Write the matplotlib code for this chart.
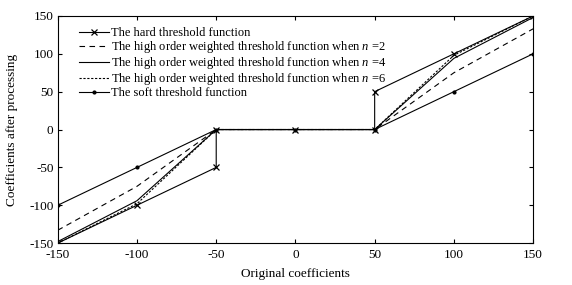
#!/usr/bin/env python3

import matplotlib
matplotlib.use('Agg')
import matplotlib.pyplot as plt

# values
x_hard = [-150, -100, -50, -50, 0, 50, 50, 100, 150]
y_hard = [-150, -100, -50, 0, 0, 0, 50, 100, 150]

x_pts = [-150, -100, -50, 0, 50, 100, 150]
y_n2 = [-133, -75, 0, 0, 0, 75, 133]
y_n4 = [-148, -94, 0, 0, 0, 94, 148]
y_n6 = [-150, -98, 0, 0, 0, 98, 150]
y_soft = [-100, -50, 0, 0, 0, 50, 100]

xticks = [-150, -100, -50, 0, 50, 100, 150]
yticks = [-150, -100, -50, 0, 50, 100, 150]


def main():
    plt.rcParams['font.family'] = ['Liberation Serif', 'DejaVu Serif']
    plt.rcParams['axes.unicode_minus'] = False
    plt.rcParams['mathtext.fontset'] = 'custom'
    plt.rcParams['mathtext.rm'] = 'Liberation Serif'
    plt.rcParams['mathtext.it'] = 'Liberation Serif:italic'

    fig = plt.figure(figsize=(5.72, 2.85), dpi=100)
    ax = fig.add_axes([0.101, 0.147, 0.831, 0.797])

    lw = 0.8
    ax.plot(x_hard, y_hard, color='black', lw=lw, marker='x', markersize=4,
            markeredgewidth=0.9, label='The hard threshold function')
    ax.plot(x_pts, y_n2, color='black', lw=lw, ls=(0, (5, 4)),
            label='The high order weighted threshold function when $\\it{n}$ =2')
    ax.plot(x_pts, y_n4, color='black', lw=lw, ls='-',
            label='The high order weighted threshold function when $\\it{n}$ =4')
    ax.plot(x_pts, y_n6, color='black', lw=lw, ls=(0, (2, 1.5)),
            label='The high order weighted threshold function when $\\it{n}$ =6')
    ax.plot(x_pts, y_soft, color='black', lw=lw, marker='.', markersize=4,
            label='The soft threshold function')

    ax.set_xlim(-150, 150)
    ax.set_ylim(-150, 150)
    ax.set_xticks(xticks)
    ax.set_yticks(yticks)
    ax.tick_params(direction='in', top=True, right=True, length=3, width=0.8,
                   labelsize=9.5, pad=3)
    ax.tick_params(axis='x', pad=4)
    for s in ax.spines.values():
        s.set_linewidth(0.8)

    ax.set_xlabel('Original coefficients', fontsize=9.5, labelpad=5)
    ax.set_ylabel('Coefficients after processing', fontsize=9.5, labelpad=8)

    ax.legend(loc='upper left', frameon=False, fontsize=9, handlelength=2.4,
              handletextpad=0.2, labelspacing=0.0, borderaxespad=0.5,
              bbox_to_anchor=(0.02, 1.0))

    fig.savefig('out.png', dpi=100)


if __name__ == '__main__':
    main()
